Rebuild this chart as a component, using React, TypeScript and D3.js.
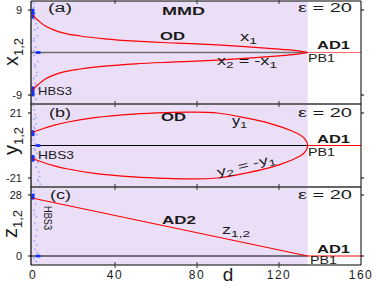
import React from "react";
import * as d3 from "d3";

// ---- data ----
const dX = [0, 1, 3, 6, 10, 15, 23, 35, 50, 70, 90, 105, 120, 130, 134];
const x1Vals = [8, 7.4, 6.6, 5.6, 4.8, 4.1, 3.5, 2.9, 2.4, 2.0, 1.6, 1.2, 0.7, 0.3, 0];

const dY = [0, 5, 10, 17, 30, 49, 65, 77, 90, 105, 115, 121, 126, 130, 132.5, 134];
const y1Vals = [8.6, 11, 13, 15.2, 18, 20.3, 21.3, 21.6, 21, 17.5, 14.5, 12, 9.5, 7, 4.5, 0];

const dZ = [0, 134];
const zVals = [26.5, 0];

const dAD1 = [134, 160];
const ad1Vals = [0, 0];

const pbD = 134;

const hbsA_d = [0.2, 0.5, 1.0, 0.3, 1.5, 0.8, 2.0, 0.4, 1.2, 0.6, 2.4, 0.9, 1.8, 0.3, 1.1, 2.6, 0.7, 1.4, 0.2, 2.2, 1.0, 0.5, 1.6, 0.4];
const hbsA_v = [10.5, 9.6, 8.3, 7.0, 6.1, 4.8, 3.5, 2.4, 1.1, -0.6, -1.9, -3.0, -4.2, -5.5, -6.6, -7.7, -8.8, -9.9, -10.7, 5.2, -2.5, 0.4, -4.9, 3.0];
const hbsB_d = [0.2, 0.6, 1.0, 0.4, 1.4, 0.8, 1.8, 0.3, 1.2, 0.6, 2.0, 1.1, 2.4, 1.6, 2.8, 3.2, 2.2, 3.6, 1.0, 0.5, 1.5, 2.6];
const hbsB_v = [26, 23, 20, 17, 14, 11, 7, 4, 1, -2, -5, -8, -11, -14, -17, -20, -22, -25, -3, 12, 18, -23];
const hbsC_d = [0.3, 0.8, 1.2, 0.5, 1.6, 0.9, 2.0, 1.3, 0.6, 1.8, 1.1, 2.2, 0.4, 1.5, 0.7];
const hbsC_v = [30, 28.5, 24, 21, 18, 15, 12, 9, 7, 5, 3, 1.5, -1, -2.5, 19];

const darkA_d = [0, 0, 0, 0, 0, 0, 0, 0, 2, 3];
const darkA_v = [9, 8.5, 8, 7.5, -7.5, -8, -8.5, -9, 0, 0];
const darkB_d = [0, 0, 0, 0, 0, 0, 2, 3];
const darkB_v = [9, 8, 7, -7, -8, -9.5, 0, 0];
const darkC_d = [0, 0, 0, 2, 3];
const darkC_v = [28, 27, 26.5, 0, 0];

const xTicks = [0, 40, 80, 120, 160];

const W = 374, H = 286;
const LEFT = 31, RIGHT = 361;
const FONT = "'Liberation Sans', Arial, sans-serif";
const TXT = "#1a1a1a";

const xS = d3.scaleLinear().domain([-1, 160]).range([LEFT, RIGHT]);

const panels = [
  { key: "a", top: 1, bottom: 104, y: d3.scaleLinear().domain([-9, 9]).range([95, 10]), ticks: [9, -9], zeroColor: "#707070", zeroW: 1.5 },
  { key: "b", top: 104, bottom: 187, y: d3.scaleLinear().domain([-21, 21]).range([178, 113]), ticks: [21, -21], zeroColor: "#000", zeroW: 1 },
  { key: "c", top: 187, bottom: 265, y: d3.scaleLinear().domain([0, 28]).range([256, 195]), ticks: [28, 0], zeroColor: "#000", zeroW: 1 },
];

// label with fixed stretched width
const L = ({ x, y, w, size = 11, bold = false, anchor = "start", transform, children }: any) => (
  <text x={x} y={y} fontSize={size} fontFamily={FONT} fontWeight={bold ? "bold" : "normal"} textAnchor={anchor}
    textLength={w} lengthAdjust="spacingAndGlyphs" transform={transform} fill={TXT}>
    {children}
  </text>
);

const Title = ({ main, tx, ty }: any) => (
  <text x={0} y={0} fontSize={20} fontFamily={FONT} textAnchor="middle" transform={`translate(${tx},${ty}) rotate(-90)`} fill={TXT}>
    {main}
    <tspan fontSize={13} dy={5}>1,2</tspan>
  </text>
);

export default function App() {
  const [pa, pb, pc] = panels;

  const lineA = d3.line<number>().x((_, i) => xS(dX[i])).y((v) => pa.y(v)).curve(d3.curveMonotoneX);
  const lineA2 = d3.line<number>().x((_, i) => xS(dX[i])).y((v) => pa.y(-v)).curve(d3.curveMonotoneX);

  const loopPts: [number, number][] = [
    ...dY.map((d, i) => [d, y1Vals[i]] as [number, number]),
    ...dY.slice(0, -1).map((d, i) => [d, -y1Vals[i]] as [number, number]).reverse(),
  ];
  const loop = d3.line<[number, number]>().x((p) => xS(p[0])).y((p) => pb.y(p[1])).curve(d3.curveCatmullRom.alpha(0.5));

  const lineZ = d3.line<number>().x((_, i) => xS(dZ[i])).y((v) => pc.y(v));

  const ad1Line = (p: any) => d3.line<number>().x((_, i) => xS(dAD1[i])).y((v) => p.y(v))(ad1Vals) as string;

  const purple = "#ebdff7";
  const red = "#ff0000";

  const hbs = [
    { p: pa, d: hbsA_d, v: hbsA_v, dd: darkA_d, dv: darkA_v },
    { p: pb, d: hbsB_d, v: hbsB_v, dd: darkB_d, dv: darkB_v },
    { p: pc, d: hbsC_d, v: hbsC_v, dd: darkC_d, dv: darkC_v },
  ];

  return (
    <svg width={W} height={H} style={{ position: "absolute", left: 0, top: 0, background: "#fff" }}>
      <rect x={LEFT} y={1} width={xS(pbD) - LEFT} height={265 - 1} fill={purple} />

      {panels.map((p) => (
        <line key={"z" + p.key} x1={LEFT} x2={xS(pbD)} y1={p.y(0)} y2={p.y(0)} stroke={p.zeroColor} strokeWidth={p.zeroW} />
      ))}

      {hbs.map((h, k) => (
        <g key={"h" + k}>
          {h.d.map((d, i) => (
            <circle key={i} cx={xS(d)} cy={h.p.y(h.v[i])} r={0.9} fill="#7f95ff" opacity={0.8} />
          ))}
          {h.dd.map((d, i) => (
            <circle key={"d" + i} cx={xS(d)} cy={h.p.y(h.dv[i])} r={1.6} fill="#1030ff" />
          ))}
        </g>
      ))}

      <path d={lineA(x1Vals) as string} fill="none" stroke={red} strokeWidth={1.2} />
      <path d={lineA2(x1Vals) as string} fill="none" stroke={red} strokeWidth={1.2} />
      <path d={loop(loopPts) as string} fill="none" stroke={red} strokeWidth={1.2} />
      <path d={lineZ(zVals) as string} fill="none" stroke={red} strokeWidth={1.2} />
      {panels.map((p) => (
        <path key={"ad" + p.key} d={ad1Line(p)} fill="none" stroke={p.key === "a" ? "#ff6a6a" : red} strokeWidth={1.2} />
      ))}

      <line x1={LEFT} x2={RIGHT} y1={104} y2={104} stroke="#666" strokeWidth={2} />
      <line x1={LEFT} x2={RIGHT} y1={187} y2={187} stroke="#666" strokeWidth={2} />
      <line x1={LEFT} x2={RIGHT} y1={1} y2={1} stroke="#000" strokeWidth={1} />
      <line x1={LEFT} x2={RIGHT} y1={265} y2={265} stroke="#000" strokeWidth={1.2} />
      <line x1={LEFT} x2={LEFT} y1={1} y2={265} stroke="#000" strokeWidth={1.2} />
      <line x1={RIGHT} x2={RIGHT} y1={1} y2={265} stroke="#000" strokeWidth={1} />

      {[1, 104, 187, 265].map((yy) =>
        xTicks.slice(1, -1).map((t) => (
          <line key={yy + "-" + t} x1={xS(t)} x2={xS(t)} y1={yy - 3} y2={yy + 3} stroke="#333" strokeWidth={1} />
        ))
      )}

      {panels.map((p) =>
        p.ticks.map((t) => (
          <g key={p.key + t}>
            <line x1={LEFT - 3} x2={LEFT} y1={p.y(t)} y2={p.y(t)} stroke="#000" />
            <line x1={RIGHT} x2={RIGHT + 3} y1={p.y(t)} y2={p.y(t)} stroke="#000" />
            <text x={22} y={p.y(t) + 4} fontSize={11} fontFamily={FONT} textAnchor="end" fill={TXT}>{t}</text>
          </g>
        ))
      )}

      {xTicks.map((t) => (
        <text key={"xt" + t} x={xS(t)} y={279} fontSize={12} fontFamily={FONT} textAnchor="middle" letterSpacing={1.5} fill={TXT}>{t}</text>
      ))}
      <text x={228} y={281} fontSize={19} fontFamily={FONT} textAnchor="middle" fill={TXT}>d</text>

      <Title main="x" tx={18} ty={52} />
      <Title main="y" tx={18} ty={141} />
      <Title main="z" tx={17} ty={224} />

      {/* panel a */}
      <L x={48} y={12} w={24} size={12}>(a)</L>
      <L x={162} y={15} w={43} bold>MMD</L>
      <L x={298} y={12} w={54} size={12}>ε = 20</L>
      <L x={160} y={40} w={25} bold>OD</L>
      <L x={240} y={41} w={17} size={12}>x<tspan fontSize={9} dy={3}>1</tspan></L>
      <L x={317} y={49} w={33} bold>AD1</L>
      <L x={308} y={62} w={27} size={10}>PB1</L>
      <L x={217} y={65} w={60} size={12}>
        x<tspan fontSize={9} dy={3}>2</tspan><tspan dy={-3}> = -x</tspan><tspan fontSize={9} dy={3}>1</tspan>
      </L>
      <L x={38} y={95} w={34} size={11}>HBS3</L>

      {/* panel b */}
      <L x={49} y={117} w={22} size={12}>(b)</L>
      <L x={161} y={121} w={25} bold>OD</L>
      <L x={298} y={117} w={54} size={12}>ε = 20</L>
      <L x={232} y={125} w={15} size={12}>y<tspan fontSize={9} dy={3}>1</tspan></L>
      <L x={317} y={143} w={33} bold>AD1</L>
      <L x={308} y={156} w={27} size={10}>PB1</L>
      <L x={38} y={159} w={36} size={11}>HBS3</L>
      <L x={-30} y={0} w={60} size={12} transform="translate(247,169) rotate(-14)">
        y<tspan fontSize={9} dy={3}>2</tspan><tspan dy={-3}> = -y</tspan><tspan fontSize={9} dy={3}>1</tspan>
      </L>

      {/* panel c */}
      <L x={50} y={199} w={21} size={12}>(c)</L>
      <L x={-12} y={0} w={24} size={10} transform="translate(44,218) rotate(90)">HBS3</L>
      <L x={162} y={224} w={34} bold>AD2</L>
      <L x={298} y={199} w={54} size={12}>ε = 20</L>
      <L x={222} y={234} w={28} size={12}>z<tspan fontSize={9} dy={3}>1,2</tspan></L>
      <L x={317} y={253} w={33} bold>AD1</L>
      <L x={310} y={264} w={27} size={10}>PB1</L>
    </svg>
  );
}
